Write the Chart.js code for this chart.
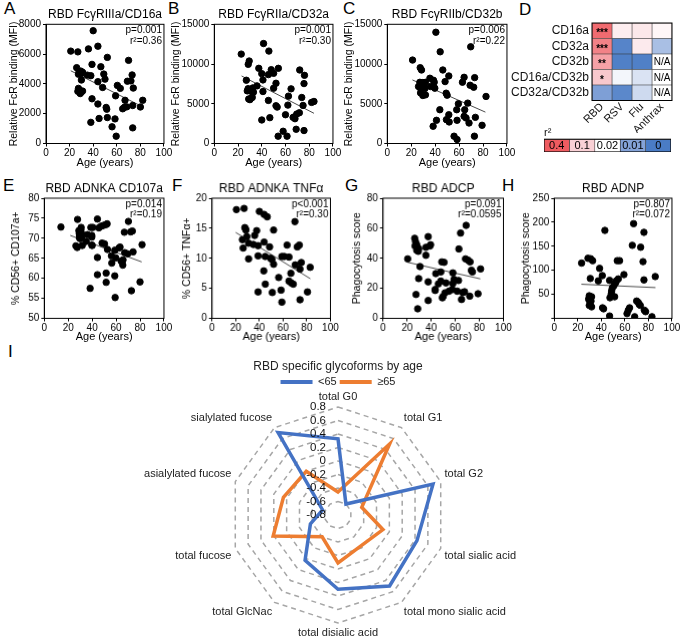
<!DOCTYPE html>
<html lang="en">
<head>
<meta charset="UTF-8">
<title>RBD Fc functions by age</title>
<style>
  body { margin: 0; background: #fff; }
  #fig { position: relative; width: 680px; height: 640px; overflow: hidden; font-family: Arial, 'Liberation Sans', sans-serif; }
  .panel { position: absolute; }
  .tag { position: absolute; font-size: 17px; line-height: 17px; color: #000; }
</style>
</head>
<body>
<div id="fig">
  <div class="tag" style="left:4px;top:0px">A</div>
  <div class="tag" style="left:168px;top:0px">B</div>
  <div class="tag" style="left:343px;top:0px">C</div>
  <div class="tag" style="left:519px;top:1px">D</div>
  <div class="tag" style="left:3px;top:177px">E</div>
  <div class="tag" style="left:172px;top:177px">F</div>
  <div class="tag" style="left:345px;top:177px">G</div>
  <div class="tag" style="left:502px;top:177px">H</div>
  <div class="tag" style="left:8px;top:343px">I</div>
</div>

<script src="https://cdn.jsdelivr.net/npm/chart.js"></script>
<script>
// ---- data ----
// A: FcgRIIIa/CD16a
const ageA = [21,27,40,36,44,52,70,26,28,30,27.5,29.5,31,39,46.5,49,50,35,38,30,44,73,69,72,60.5,63,48,74,27.5,28.5,30,29,27,31,59,39,67,82,44,51,51.5,66.5,68.5,65,73.5,80,45,52,38,58.5,56,73.5,59.5];
const mfiA = [6200,6150,7570,6350,6530,5780,5580,5090,4820,4700,4650,4860,4780,5310,5150,4660,4320,4590,4550,4260,4150,4600,4180,4200,3900,3700,3760,3720,3700,3560,3450,3350,3500,3520,3200,3000,2900,2900,2650,2420,2300,2430,2460,2330,2550,2450,1680,1740,1420,1650,1120,1050,490];
const trendA = [[21,4880],[81,2500]];

// B: FcgRIIa/CD32a
const ageB = [22.7,41.5,46,29.4,28.6,37.5,54,48,72,40,50,45.6,76,27,41,36,32.5,52,64.7,50,28.5,30.2,27.8,31,33,75.6,41,62.5,73.7,29,30.8,32,30,45.6,52,53,62,74.8,82,84,60,66.4,68,67.5,69.5,71.7,46.8,40,69,75.6,58,53.8,61.3];
const mfiB = [11250,12580,11630,10380,9960,9460,9460,9290,9250,8790,8830,8670,8580,7960,8000,7250,7000,7580,6880,6960,6900,6700,6620,6560,6460,7540,6540,5960,5790,5600,5680,5800,5520,5420,4750,4580,4830,4790,5170,5290,3620,3290,3120,3330,3710,3870,3250,2960,1790,1630,1540,920,920];
const trendB = [[23,8500],[84,3800]];

// C: FcgRIIb/CD32b
const ageC = [21.1,40.6,44.2,69.7,27.5,28.6,46.4,51.4,48.3,35.6,38.6,39.2,64.2,73,62.8,69.2,72.2,27.2,29.7,31.9,26.1,30.6,28,31.4,27.8,31.9,29.7,36.1,39.7,49.2,50,82.5,59.4,67.2,43.9,58,64.7,51.4,64.2,65.8,73.6,41.1,49.4,51.7,58.3,68.3,79.2,38.3,55.8,58.3,72.8];
const mfiC = [10500,14000,11540,12170,9540,9250,9250,8500,7790,8210,7960,7710,8330,8290,7710,7330,7080,7700,7670,7700,7170,7210,6880,6920,6370,6120,6040,7170,6960,6330,6080,5920,5000,5080,4250,4250,4250,3620,3420,3210,3290,2920,3000,2710,2920,2580,2290,2170,920,500,920];
const trendC = [[21,8000],[82,3950]];

// E: ADNKA CD107a
const ageE = [13.9,27.8,28.9,30.8,30.6,29.2,31.1,29.4,31.4,29.4,30,26.4,27.5,31.7,36.1,35,38.9,40.6,39.7,39.7,39.7,40,44.4,45.6,47.5,49.4,51.4,52.5,48.3,50.3,52.8,56.1,58.9,62.5,63.3,59.7,44.4,56.4,64.2,65.8,65.6,67.2,70.3,72.2,73.6,66.9,69.7,74.2,81.7,44.4,51.7,51.7,58.9,38.3,59.2,72.8,80];
const cd107E = [72.8,74.7,71.9,72.7,72.1,71.2,71.2,70.7,70.5,70.1,69.9,68.1,67.7,68.2,70.9,69.2,72.7,72.7,70.7,70.3,68.3,68.2,74.8,72.6,73,73.2,73.4,73.6,68.8,68.6,67.2,65.6,67,67.6,67.8,65.1,65.2,63.8,64.3,64.6,63.3,66.4,74.2,71.6,71.8,71.5,66.1,66.6,68.4,60.9,61.3,59,60.6,57.5,55.2,56.9,59.1];
const trendE = [[21.7,70.7],[81.4,64.1]];

// F: ADNKA TNFa
const ageF = [20.6,27.1,27.7,28.3,28.6,29.4,25.7,26.3,30.9,30.9,34.9,36,37.7,38.9,38.9,40,44,46.6,44,44.9,48.6,49.4,50.6,52,52,43.7,45,38.9,50.9,56.3,58.3,59,59,61,63.4,65,66.6,65,66.9,68.6,70,70.3,72,73.7,74.3,75.4,74.3,80.6,82.9];
const tnfF = [18.1,18.3,15.1,14.9,14.7,13.6,13.1,11.7,12.5,9.9,12.3,13.8,14.6,12.1,10.4,17.8,17.3,16.9,12.7,10.3,11.9,10,9.8,14.7,9,7.9,5.7,4.4,4.3,6.8,4.7,2.7,10.3,10.3,12.2,10.2,7.5,6.2,5.9,5.7,16.1,8.9,11.9,12.2,8.2,9.3,3.1,4.4,8.5];
const trendF = [[20,14.3],[83,6.6]];

// G: ADCP
const ageG = [20.5,26.3,27,28,26.6,28.5,29.6,28,29.3,35.6,37.5,39.5,38.9,35.6,30.7,29.6,27.4,28.8,37.5,37.5,43.8,43.3,43.3,46,48,48,48.8,50.7,49.3,49.9,51.5,52.3,54.8,58,58,59,57.5,61.6,62.7,64.4,63,65.2,66.3,67.7,69,68.5,70.7,72.3,73.4,74.2,72,78.9,81];
const phagoG = [39.6,53.3,51,49,48.2,47.3,46.4,45.3,44.6,47.3,54.4,49,48.2,42,34.5,26.5,15.9,6.4,24.3,11.9,29.8,19.2,18.6,23,30.9,24.8,37.6,37.3,13.7,14.6,17,23.6,18.1,30.3,23.2,25.9,19.2,18.1,25.2,56.8,46.2,12.6,17.2,17.7,61.9,39.6,38.7,37.6,32,30.9,14.8,16.4,32.9];
const trendG = [[20.5,37.3],[80.8,26.3]];

// H: ADNP
const ageH = [23.2,28.6,30.9,32.6,30.6,29.7,29.7,29.2,30,29.7,31.7,31.2,31.7,38.5,37.4,40.8,43,41,41.9,47,47.3,47,48.4,48.7,49.3,50.7,52.1,52.7,54.4,53.5,55.5,51.3,59.2,61.8,62.9,64,66.3,67.4,68.3,70,71.4,72.2,73.1,73.4,75.4,76.2,76.2,76.5,77.6,83,85.8];
const phagoH = [115,125,124,120,83,47,42,40,37,27,45,36,24,104,78,89,183,22,20,79,43,5,51,57,63,68,74,78,82,120,120,45,91,10,17,22,152,197,3.5,36,33,29,27,148,118,179,80,17,14,3.5,87];
const trendH = [[23,71],[86,64]];

// D: r2 heat map
const rowNames = ['CD16a', 'CD32a', 'CD32b', 'CD16a/CD32b', 'CD32a/CD32b'];
const colNames = ['RBD', 'RSV', 'Flu', 'Anthrax'];
const r2RBD = [0.36, 0.30, 0.22, 0.12, 0.009];
const r2RSV = [0.05, 0.002, 0.001, 0.019, 0.003];
const r2Flu = [0.06, 0.055, 0.001, 0.017, 0.016];
const r2Anthrax = [0.035, 0.013, null, null, null];
const sigRBD = ['***', '***', '**', '*', ''];
const scaleStops = [0.4, 0.1, 0.02, 0.01, 0];
const scaleLabels = ['0.4', '0.1', '0.02', '0.01', '0'];

// I: glycoform radar
const glycoLabels = ['total G0', 'total G1', 'total G2', 'total sialic acid', 'total mono sialic acid', 'total disialic acid', 'total GlcNac', 'total fucose', 'asialylated fucose', 'sialylated fucose'];
const under65 = [0.33, -0.6, 0.68, 0.43, 0.5, 0.3, 0.03, -0.37, -0.56, 0.71];
const over65 = [-0.46, 0.5, -0.43, -0.1, -0.23, -0.09, -0.4, 0.21, 0.05, 0.0];

// ---- drawing ----
const FONT_N = "'Liberation Sans Narrow','Arial Narrow',Arial,sans-serif";
const FONT_A = "Arial,'Liberation Sans',sans-serif";
Chart.defaults.font.family = FONT_N;
Chart.defaults.color = '#000';

function addBox(id, l, t, w, h) {
  const d = document.createElement('div');
  d.className = 'panel';
  d.style.cssText = 'left:' + l + 'px;top:' + t + 'px;width:' + w + 'px;height:' + h + 'px';
  const c = document.createElement('canvas');
  c.id = id;
  d.appendChild(c);
  document.getElementById('fig').appendChild(d);
  return c;
}

const framePlugin = {
  id: 'frame',
  afterDraw(chart) {
    const a = chart.chartArea, ctx = chart.ctx;
    ctx.save();
    ctx.strokeStyle = '#000';
    ctx.lineWidth = 1;
    ctx.strokeRect(a.left, a.top, a.right - a.left, a.bottom - a.top);
    ctx.restore();
  }
};

// panel title centred over the plot + p / r2 text in the top right corner
const statsPlugin = {
  id: 'stats',
  afterDraw(chart, args, opts) {
    const a = chart.chartArea, ctx = chart.ctx;
    ctx.save();
    ctx.fillStyle = '#000';
    ctx.textBaseline = 'middle';
    ctx.textAlign = 'center';
    ctx.font = '12px ' + FONT_N;
    ctx.fillText(opts.title, (a.left + a.right) / 2, a.top - 9.5);
    ctx.textAlign = 'right';
    ctx.font = '10px ' + FONT_N;
    opts.lines.forEach((t, i) => ctx.fillText(t, a.right - 2, a.top + 6 + i * 10.5));
    ctx.restore();
  }
};

function scatterPanel(id, p) {
  const boxL = p.yTitleX - 6.3, boxT = p.top, boxR = p.plot.r + 9, boxB = p.bottom;
  const c = addBox(id, boxL, boxT, boxR - boxL, boxB - boxT);
  new Chart(c, {
    type: 'scatter',
    data: {
      datasets: [
        { data: p.xs.map((x, i) => ({ x: x, y: p.ys[i] })), backgroundColor: '#000', borderColor: '#000',
          pointRadius: 3.2, pointHoverRadius: 3.2, order: 1 },
        { data: p.trend.map(d => ({ x: d[0], y: d[1] })), showLine: true, borderColor: '#4a4a4a',
          borderWidth: 1, pointRadius: 0, order: 2 }
      ]
    },
    options: {
      responsive: true, maintainAspectRatio: false, animation: false,
      layout: { padding: { left: 0, right: 9, top: p.plot.t - boxT, bottom: 0 } },
      plugins: {
        legend: { display: false }, tooltip: { enabled: false },
        stats: { title: p.title, lines: p.stats }
      },
      scales: {
        x: {
          type: 'linear', min: 0, max: 100,
          afterFit: s => { s.height = boxB - p.plot.b; },
          ticks: { stepSize: 20, font: { size: 10 }, padding: 1, maxRotation: 0, callback: v => String(v) },
          grid: { drawOnChartArea: false, tickLength: 3, color: '#000' },
          border: { color: '#000' },
          title: { display: true, text: 'Age (years)', font: { size: 11 }, padding: 0 }
        },
        y: {
          min: p.yMin, max: p.yMax,
          afterFit: s => { s.width = p.plot.l - boxL; },
          ticks: { stepSize: p.yStep, font: { size: 10 }, padding: 2,
                   callback: v => (p.hideZero && v === 0) ? '' : String(v) },
          grid: { drawOnChartArea: false, tickLength: 3, color: '#000' },
          border: { color: '#000' },
          title: { display: true, text: p.yTitle, font: { size: 10.5 }, padding: 0 }
        }
      }
    },
    plugins: [framePlugin, statsPlugin]
  });
}

const fcrTitle = 'Relative FcR binding (MFI)';
scatterPanel('cA', { top: 0, bottom: 170, yTitleX: 14, plot: { l: 45.7, t: 24.3, r: 164, b: 143.5 },
  xs: ageA, ys: mfiA, trend: trendA, yMin: 0, yMax: 8000, yStep: 2000, yTitle: fcrTitle,
  title: 'RBD FcγRIIIa/CD16a', stats: ['p=0.001', 'r²=0.36'] });
scatterPanel('cB', { top: 0, bottom: 170, yTitleX: 176, plot: { l: 214, t: 24.3, r: 333, b: 143.5 },
  xs: ageB, ys: mfiB, trend: trendB, yMin: 0, yMax: 15000, yStep: 5000, yTitle: fcrTitle,
  title: 'RBD FcγRIIa/CD32a', stats: ['p=0.001', 'r²=0.30'] });
scatterPanel('cC', { top: 0, bottom: 170, yTitleX: 349, plot: { l: 387, t: 24.3, r: 507, b: 143.5 },
  xs: ageC, ys: mfiC, trend: trendC, yMin: 0, yMax: 15000, yStep: 5000, yTitle: fcrTitle,
  title: 'RBD FcγRIIb/CD32b', stats: ['p=0.006', 'r²=0.22'] });
scatterPanel('cE', { top: 172, bottom: 342.6, yTitleX: 16, plot: { l: 44, t: 198, r: 164, b: 317.5 },
  xs: ageE, ys: cd107E, trend: trendE, yMin: 50, yMax: 80, yStep: 5, yTitle: '% CD56+ CD107a+',
  title: 'RBD ADNKA CD107a', stats: ['p=0.014', 'r²=0.19'] });
scatterPanel('cF', { top: 172, bottom: 342.6, yTitleX: 187.5, plot: { l: 212, t: 198, r: 330, b: 317.5 },
  xs: ageF, ys: tnfF, trend: trendF, yMin: 0, yMax: 20, yStep: 5, yTitle: '% CD56+ TNFα+',
  title: 'RBD ADNKA TNFα', stats: ['p<0.001', 'r²=0.30'] });
scatterPanel('cG', { top: 172, bottom: 342.6, yTitleX: 357.5, plot: { l: 383, t: 198, r: 503, b: 317.5 },
  xs: ageG, ys: phagoG, trend: trendG, yMin: 0, yMax: 80, yStep: 20, yTitle: 'Phagocytosis score',
  title: 'RBD ADCP', stats: ['p=0.091', 'r²=0.0595'] });
scatterPanel('cH', { top: 172, bottom: 342.6, yTitleX: 526, plot: { l: 554, t: 198, r: 672, b: 317.5 },
  xs: ageH, ys: phagoH, trend: trendH, yMin: 0, yMax: 250, yStep: 50, yTitle: 'Phagocytosis score',
  title: 'RBD ADNP', stats: ['p=0.807', 'r²=0.072'], hideZero: true });

// colour scale for r2 (same stops as the legend bar)
const stopVals = [0, 0.01, 0.02, 0.1, 0.4];
const stopCols = [[74, 124, 197], [132, 163, 216], [255, 255, 255], [249, 208, 213], [239, 91, 96]];
function r2Color(v) {
  if (v === null) return '#ffffff';
  if (v <= stopVals[0]) return 'rgb(' + stopCols[0].join(',') + ')';
  for (let i = 1; i < stopVals.length; i++) {
    if (v <= stopVals[i]) {
      const f = (v - stopVals[i - 1]) / (stopVals[i] - stopVals[i - 1]);
      const c = stopCols[i - 1].map((a, k) => Math.round(a + (stopCols[i][k] - a) * f));
      return 'rgb(' + c.join(',') + ')';
    }
  }
  return 'rgb(' + stopCols[stopCols.length - 1].join(',') + ')';
}

const cellTextPlugin = {
  id: 'cellText',
  afterDatasetsDraw(chart, args, opts) {
    const ctx = chart.ctx;
    ctx.save();
    ctx.textAlign = 'center';
    ctx.textBaseline = 'middle';
    ctx.fillStyle = '#000';
    chart.data.datasets.forEach((ds, di) => {
      chart.getDatasetMeta(di).data.forEach((el, i) => {
        const t = opts.texts[di][i];
        if (!t) return;
        const star = t.charAt(0) === '*';
        ctx.font = (star ? 'bold 10px ' : opts.size + 'px ') + FONT_A;
        ctx.fillText(t, (el.x + el.base) / 2, el.y + (star ? 2.5 : 0.5));
      });
    });
    ctx.restore();
  }
};

// D heat map
const heatCols = [r2RBD, r2RSV, r2Flu, r2Anthrax];
new Chart(addBox('cD', 500, 0, 180, 133), {
  type: 'bar',
  data: {
    labels: rowNames,
    datasets: heatCols.map((col, ci) => ({
      label: colNames[ci],
      data: col.map(() => 1),
      backgroundColor: col.map(r2Color),
      borderColor: '#333', borderWidth: 0.6, borderSkipped: false,
      barPercentage: 1, categoryPercentage: 1
    }))
  },
  options: {
    indexAxis: 'y', responsive: true, maintainAspectRatio: false, animation: false,
    layout: { padding: { top: 23, right: 8, left: 0, bottom: 0 } },
    plugins: {
      legend: { display: false }, tooltip: { enabled: false },
      cellText: { size: 10, texts: heatCols.map((col, ci) => col.map((v, ri) => ci === 0 ? sigRBD[ri] : (v === null ? 'N/A' : ''))) }
    },
    scales: {
      y: {
        stacked: true,
        afterFit: s => { s.width = 92; },
        grid: { display: false, drawTicks: false }, border: { display: false },
        ticks: { autoSkip: false, font: { size: 12, family: FONT_A }, color: '#111', padding: 3 }
      },
      x: {
        type: 'linear', stacked: true, min: 0, max: 4,
        afterFit: s => { s.height = 32.5; },
        afterBuildTicks: s => { s.ticks = colNames.map((n, i) => ({ value: i + 0.5 })); },
        grid: { display: false, drawTicks: false }, border: { display: false },
        ticks: { autoSkip: false, minRotation: 45, maxRotation: 45, padding: 0,
                 font: { size: 11, family: FONT_A }, color: '#111',
                 callback: (v, i) => colNames[i] }
      }
    }
  },
  plugins: [framePlugin, cellTextPlugin]
});

// D colour legend
new Chart(addBox('cDkey', 544, 126, 127, 26), {
  type: 'bar',
  data: {
    labels: [''],
    datasets: scaleStops.map((v, i) => ({
      label: scaleLabels[i], data: [1], backgroundColor: r2Color(v),
      borderColor: '#333', borderWidth: 0.6, borderSkipped: false,
      barPercentage: 1, categoryPercentage: 1
    }))
  },
  options: {
    indexAxis: 'y', responsive: true, maintainAspectRatio: false, animation: false,
    layout: { padding: 0 },
    plugins: {
      legend: { display: false }, tooltip: { enabled: false },
      title: { display: true, text: 'r²', align: 'start', color: '#111', font: { size: 11, family: FONT_A, weight: 'normal' }, padding: 0 },
      cellText: { size: 11, texts: scaleLabels.map(l => [l]) }
    },
    scales: {
      x: { stacked: true, display: false, min: 0, max: 5 },
      y: { stacked: true, display: false }
    }
  },
  plugins: [framePlugin, cellTextPlugin]
});

// I radar
const radarTickPlugin = {
  id: 'radarTicks',
  afterDatasetsDraw(chart) {
    const s = chart.scales.r, ctx = chart.ctx;
    ctx.save();
    ctx.font = '11.5px ' + FONT_A;
    ctx.fillStyle = '#111';
    ctx.textAlign = 'right';
    ctx.textBaseline = 'middle';
    s.ticks.forEach(t => {
      const d = s.getDistanceFromCenterForValue(t.value);
      ctx.fillText(String(Math.round(t.value * 10) / 10), s.xCenter - 12, s.yCenter - d);
    });
    ctx.restore();
  }
};

new Chart(addBox('cI', 118, 357, 440, 283), {
  type: 'radar',
  data: {
    labels: glycoLabels,
    datasets: [
      { label: '<65', data: under65, borderColor: '#4472c4', backgroundColor: '#4472c4', borderWidth: 3.5, fill: false, pointRadius: 0 },
      { label: '≥65', data: over65, borderColor: '#ed7d31', backgroundColor: '#ed7d31', borderWidth: 3.5, fill: false, pointRadius: 0 }
    ]
  },
  options: {
    responsive: true, maintainAspectRatio: false, animation: false,
    layout: { padding: 0 },
    plugins: {
      tooltip: { enabled: false },
      title: { display: true, text: 'RBD specific glycoforms by age', color: '#222',
               font: { size: 12, family: FONT_A, weight: 'normal' }, padding: { top: 2, bottom: 0 } },
      legend: {
        display: true, maxHeight: 17.5,
        labels: {
          font: { size: 11, family: FONT_A }, color: '#222', boxWidth: 32, boxHeight: 4, padding: 3,
          generateLabels: ch => Chart.defaults.plugins.legend.labels.generateLabels(ch).map(l => Object.assign(l, { lineWidth: 0 }))
        }
      }
    },
    scales: {
      r: {
        min: -0.8, max: 0.8,
        ticks: { stepSize: 0.2, display: false },
        grid: { circular: false, color: '#a6a6a6', lineWidth: 1.5 },
        border: { dash: [5, 4] },
        angleLines: { display: false },
        pointLabels: { font: { size: 11, family: FONT_A, lineHeight: 1.1 }, color: '#222', padding: 4 }
      }
    }
  },
  plugins: [radarTickPlugin]
});
</script>
</body>
</html>
